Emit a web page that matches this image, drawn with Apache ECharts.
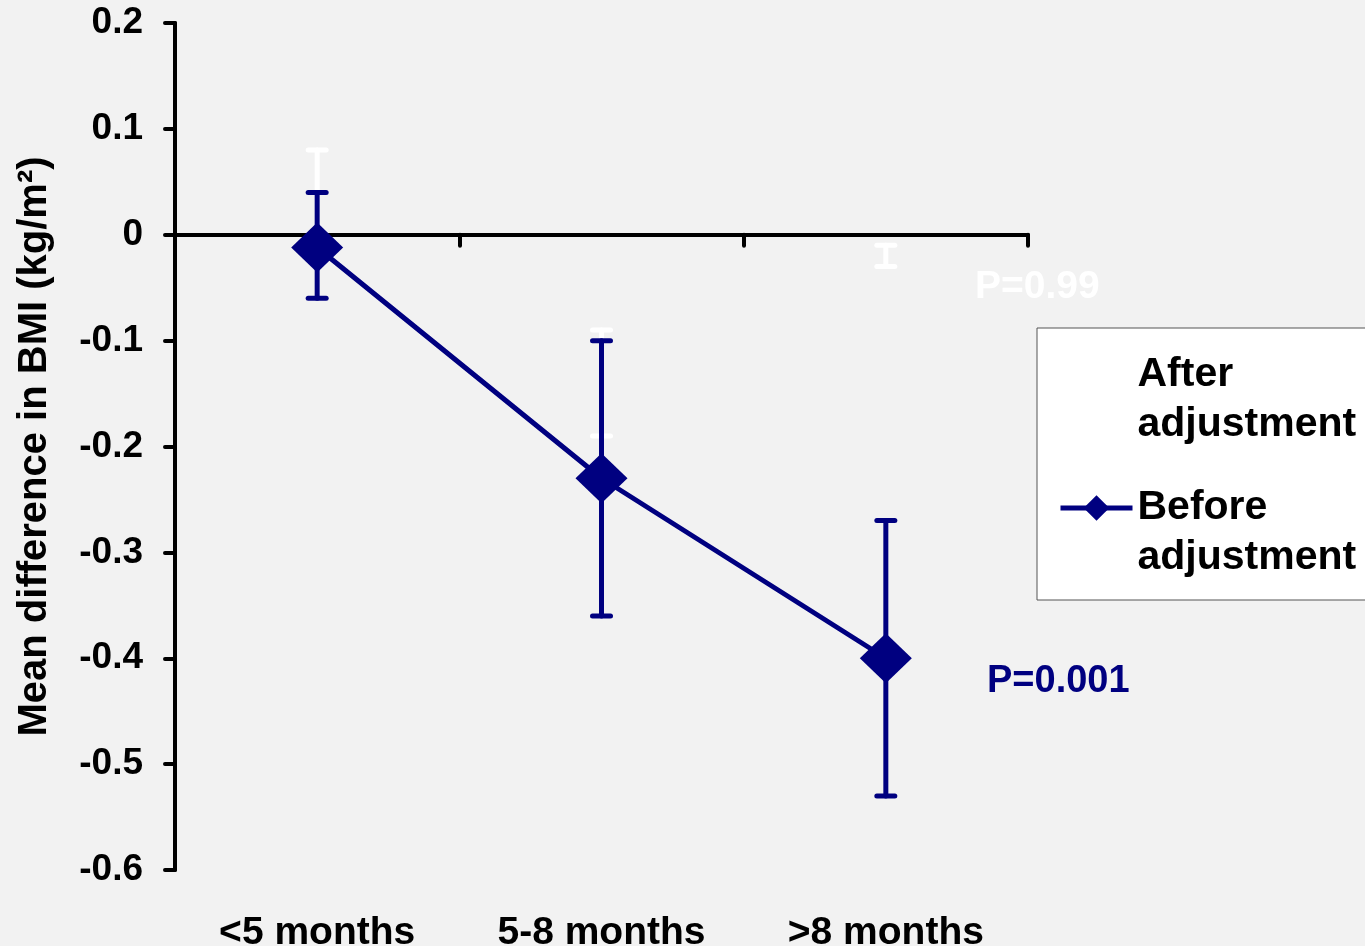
<!DOCTYPE html>
<html>
<head>
<meta charset="utf-8">
<title>Mean difference in BMI by duration</title>
<script src="https://cdn.jsdelivr.net/npm/echarts@6/dist/echarts.min.js"></script>
<style>
  html, body { margin: 0; padding: 0; background: #f2f2f2; }
  #chart { width: 1365px; height: 946px; }
</style>
</head>
<body>
<div id="chart"></div>
<script>
// Duration groups on the x axis
const categories = ['<5 months', '5-8 months', '>8 months'];

// Before adjustment: mean difference and 95% CI
const beforeMean = [-0.012, -0.23, -0.40];
const beforeLow  = [-0.06, -0.36, -0.53];
const beforeHigh = [0.04, -0.10, -0.27];

// After adjustment: mean difference and 95% CI
const afterMean = [0.01, -0.14, -0.02];
const afterLow  = [-0.06, -0.19, -0.03];
const afterHigh = [0.08, -0.09, -0.01];

// Y axis range and step
const yMin = -0.6, yMax = 0.2, yStep = 0.1;

// P values shown beside the series
const pAfter = 'P=0.99';
const pBefore = 'P=0.001';

const FONT = '"Liberation Sans", Arial, sans-serif';
const NAVY = '#000080';

function errorBars(name, low, high, color, z) {
  return {
    type: 'custom',
    name: name,
    z: z,
    silent: true,
    itemStyle: { color: color },
    encode: { x: 0, y: [1, 2] },
    data: categories.map((c, i) => [i, low[i], high[i]]),
    renderItem: function (params, api) {
      const top = api.coord([api.value(0), api.value(2)]);
      const bot = api.coord([api.value(0), api.value(1)]);
      const hw = 9;
      const st = { stroke: color, lineWidth: 5, lineCap: 'round' };
      return {
        type: 'group',
        children: [
          { type: 'line', shape: { x1: top[0], y1: top[1], x2: bot[0], y2: bot[1] }, style: st },
          { type: 'line', shape: { x1: top[0] - hw, y1: top[1], x2: top[0] + hw, y2: top[1] }, style: st },
          { type: 'line', shape: { x1: bot[0] - hw, y1: bot[1], x2: bot[0] + hw, y2: bot[1] }, style: st }
        ]
      };
    }
  };
}

const chart = echarts.init(document.getElementById('chart'), null, { renderer: 'canvas' });

chart.setOption({
  backgroundColor: '#f2f2f2',
  animation: false,
  textStyle: { fontFamily: FONT },
  grid: { left: 175, right: 337, top: 23, bottom: 76, containLabel: false, outerBoundsMode: 'none' },
  legend: {
    orient: 'vertical',
    left: 1037,
    top: 328,
    selectedMode: false,
    backgroundColor: '#ffffff',
    borderColor: '#555555',
    borderWidth: 1,
    borderRadius: 0,
    padding: [22, 40, 17, 21],
    itemWidth: 72,
    itemHeight: 32,
    itemGap: -17,
    lineStyle: { width: 5 },
    data: [{ name: 'After adjustment' }, { name: 'Before adjustment' }],
    formatter: function (name) {
      return name === 'Before adjustment' ? '\nBefore\nadjustment' : 'After\nadjustment';
    },
    textStyle: { fontFamily: FONT, fontSize: 41, fontWeight: 'bold', color: '#000', lineHeight: 50 }
  },
  xAxis: [
    {
      type: 'category',
      data: categories,
      position: 'bottom',
      boundaryGap: true,
      axisLine: { show: true, onZero: true, lineStyle: { color: '#000', width: 4, cap: 'round' } },
      axisTick: { show: true, alignWithLabel: false, length: 11, lineStyle: { color: '#000', width: 4, cap: 'round' } },
      axisLabel: { show: false },
      splitLine: { show: false }
    },
    {
      type: 'category',
      data: categories,
      position: 'bottom',
      boundaryGap: true,
      axisLine: { show: false, onZero: false },
      axisTick: { show: false },
      axisLabel: { show: true, margin: 44, fontFamily: FONT, fontSize: 39, fontWeight: 'bold', color: '#000' },
      splitLine: { show: false }
    }
  ],
  yAxis: {
    type: 'value',
    min: yMin,
    max: yMax,
    interval: yStep,
    name: 'Mean difference in BMI (kg/m²)',
    nameLocation: 'middle',
    nameGap: 120,
    nameRotate: 90,
    nameTextStyle: { fontFamily: FONT, fontSize: 40, fontWeight: 'bold', color: '#000' },
    axisLine: { show: true, onZero: false, lineStyle: { color: '#000', width: 4, cap: 'round' } },
    axisTick: { show: true, length: 10, lineStyle: { color: '#000', width: 4, cap: 'round' } },
    axisLabel: {
      margin: 32,
      fontFamily: FONT, fontSize: 37, fontWeight: 'bold', color: '#000',
      formatter: function (v) { const r = Number(v.toFixed(1)); return r === 0 ? '0' : String(r); }
    },
    splitLine: { show: false }
  },
  series: [
    errorBars('After adjustment', afterLow, afterHigh, '#ffffff', 2),
    errorBars('Before adjustment CI', beforeLow, beforeHigh, NAVY, 3),
    {
      type: 'line',
      name: 'Before adjustment',
      z: 4,
      data: beforeMean,
      symbol: 'diamond',
      symbolSize: [52, 50],
      lineStyle: { color: NAVY, width: 5 },
      itemStyle: { color: NAVY },
      silent: true
    }
  ],
  graphic: [
    { type: 'text', left: 975, top: 268, style: { text: pAfter, fill: '#ffffff', font: 'bold 39px ' + FONT } },
    { type: 'text', left: 987, top: 663, style: { text: pBefore, fill: NAVY, font: 'bold 38px ' + FONT } }
  ]
});
</script>
</body>
</html>
